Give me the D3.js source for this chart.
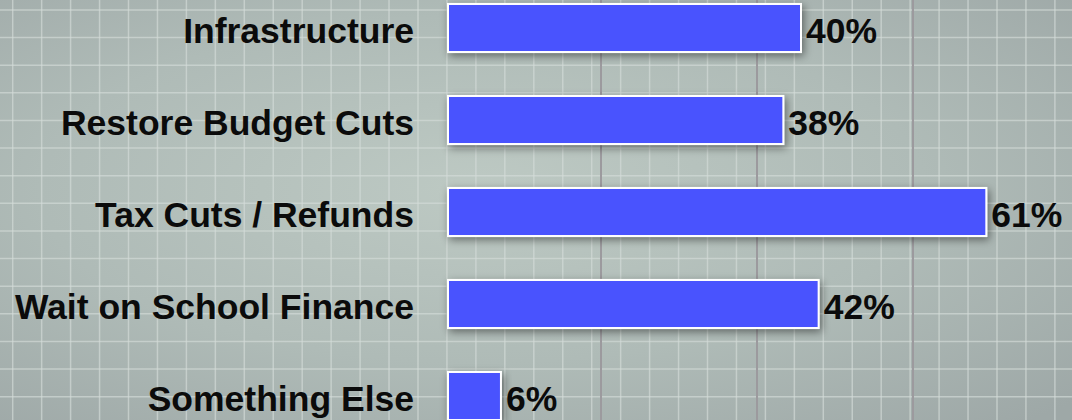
<!DOCTYPE html>
<html>
<head>
<meta charset="utf-8">
<script src="https://cdn.jsdelivr.net/npm/d3@7"></script>
<style>
  body { margin: 0; background: #a9b5b1; overflow: hidden; }
  .label { font-family: "Liberation Sans", Arial, sans-serif; font-weight: bold; fill: #0b0b0b; }
</style>
</head>
<body>
<div id="chart"></div>
<script>
// survey answers, percent
const categories = ['Infrastructure', 'Restore Budget Cuts', 'Tax Cuts / Refunds', 'Wait on School Finance', 'Something Else'];
const values = [40, 38, 61, 42, 6];

const width = 1072;
const height = 420;

const svg = d3.select('#chart').append('svg')
  .attr('width', width)
  .attr('height', height);

const defs = svg.append('defs');

const glow = defs.append('radialGradient')
  .attr('id', 'bg')
  .attr('cx', '0.45').attr('cy', '0.45').attr('r', '0.75');
glow.append('stop').attr('offset', '0%').attr('stop-color', '#bdc9c3');
glow.append('stop').attr('offset', '55%').attr('stop-color', '#afbbb7');
glow.append('stop').attr('offset', '100%').attr('stop-color', '#9ea8a7');

const shadow = defs.append('filter')
  .attr('id', 'shadow')
  .attr('x', '-20%').attr('y', '-40%')
  .attr('width', '140%').attr('height', '180%');
shadow.append('feDropShadow')
  .attr('dx', 2).attr('dy', 3)
  .attr('stdDeviation', 4)
  .attr('flood-color', '#000')
  .attr('flood-opacity', 0.45);

// background: graph paper
svg.append('rect')
  .attr('width', width)
  .attr('height', height)
  .attr('fill', 'url(#bg)');

const gridX = d3.range(12.7, width, 28.95);
const gridY = d3.range(10, height, 27.62);

svg.append('g').selectAll('line')
  .data(gridX)
  .enter().append('line')
  .attr('x1', d => d).attr('x2', d => d)
  .attr('y1', 0).attr('y2', height)
  .attr('stroke', '#d4dcd8')
  .attr('stroke-opacity', 0.65)
  .attr('stroke-width', 1.5);

svg.append('g').selectAll('line')
  .data(gridY)
  .enter().append('line')
  .attr('x1', 0).attr('x2', width)
  .attr('y1', d => d).attr('y2', d => d)
  .attr('stroke', '#d4dcd8')
  .attr('stroke-opacity', 0.65)
  .attr('stroke-width', 1.5);

// darker chart gridlines
const majorX = d3.range(601, 1000, 156);
svg.append('g').selectAll('line')
  .data(majorX)
  .enter().append('line')
  .attr('x1', d => d).attr('x2', d => d)
  .attr('y1', 0).attr('y2', height)
  .attr('stroke', '#9c9a9e')
  .attr('stroke-width', 2);

const x = d3.scaleLinear()
  .domain([0, 100])
  .range([448, 1330.5]);

const y = d3.scaleBand()
  .domain(categories)
  .range([-18, 442])
  .paddingInner(0.478)
  .paddingOuter(0.239);

const data = categories.map((c, i) => ({ name: c, value: values[i] }));

svg.append('g').selectAll('rect')
  .data(data)
  .enter().append('rect')
  .attr('x', x(0))
  .attr('y', d => y(d.name))
  .attr('width', d => x(d.value) - x(0))
  .attr('height', y.bandwidth())
  .attr('fill', '#4a53fe')
  .attr('stroke', '#ffffff')
  .attr('stroke-width', 2)
  .attr('filter', 'url(#shadow)');

svg.append('g').selectAll('text')
  .data(data)
  .enter().append('text')
  .attr('class', 'label')
  .attr('x', x(0) - 34)
  .attr('y', d => y(d.name) + y.bandwidth() / 2)
  .attr('dy', '0.43em')
  .attr('text-anchor', 'end')
  .style('font-size', '35.5px')
  .text(d => d.name);

svg.append('g').selectAll('text')
  .data(data)
  .enter().append('text')
  .attr('class', 'label')
  .attr('x', d => x(d.value) + 5)
  .attr('y', d => y(d.name) + y.bandwidth() / 2)
  .attr('dy', '0.43em')
  .style('font-size', '35.5px')
  .text(d => d.value + '%');
</script>
</body>
</html>
